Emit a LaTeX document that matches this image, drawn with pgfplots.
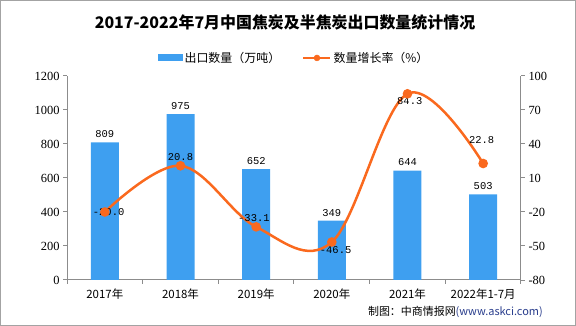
\documentclass[border=0pt]{standalone}
\usepackage{fontspec}
\setmainfont{Liberation Serif}
\newfontfamily\cjk{Noto Sans CJK SC}
\newfontfamily\mono{Liberation Mono}
\usepackage{pgfplots}
\pgfplotsset{compat=1.18}
\definecolor{barblue}{RGB}{62,159,240}
\definecolor{lineorange}{RGB}{250,105,30}
\definecolor{axgray}{RGB}{140,140,140}
\definecolor{urlblue}{RGB}{40,60,140}
\begin{document}
\begin{tikzpicture}
\path[use as bounding box] (0,0) rectangle (576bp,326bp);
\draw[axgray!80, line width=1bp] (0.5bp,0.5bp) rectangle (575.5bp,325.5bp);
\node[font=\cjk\bfseries\fontsize{16}{18}\selectfont] at (285bp,304bp) {2017-2022年7月中国焦炭及半焦炭出口数量统计情况};
\node[anchor=east, font=\cjk\fontsize{11}{13}\selectfont, inner sep=0] at (543bp,14bp) {制图：中商情报网\textcolor{urlblue}{(www.askci.com)}};
\begin{axis}[name=ax,
  at={(67bp,46bp)}, anchor=south west, scale only axis,
  width=454bp, height=204bp,
  xmin=-0.5, xmax=5.5, ymin=0, ymax=1200,
  axis y line*=left, axis x line*=bottom,
  axis line style={axgray, line width=1bp, -},
  ytick={0,200,...,1200},
  xtick={0,...,5},
  xticklabels={2017年,2018年,2019年,2020年,2021年,2022年1-7月},
  minor xtick={-0.5,0.5,...,5.5},
  major x tick style={draw=none},
  minor tick length=4bp,
  major tick length=4bp,
  tick style={axgray, line width=1bp},
  tick align=outside,
  xticklabel style={font=\cjk\fontsize{11.5}{13}\selectfont, yshift=-1bp},
  yticklabel style={font=\fontsize{12.5}{14}\selectfont},
  /pgf/number format/assume math mode=true,
  /pgf/number format/1000 sep={},
  clip=false,
  legend style={at={(0.5,1)}, anchor=south, yshift=8bp, draw=none, fill=none,
    legend columns=2, font=\cjk\fontsize{12}{14}\selectfont,
    /tikz/every even column/.append style={column sep=20bp}},
  legend cell align=left,
]
\addplot[ybar, bar width=28bp, fill=barblue, draw=none,
  nodes near coords, every node near coord/.append style={font=\mono\fontsize{10.5}{12}\selectfont, black, yshift=1bp},
  legend image code/.code={\fill[barblue] (0bp,-3.5bp) rectangle (25bp,3.5bp);}]
  coordinates {(0,809) (1,975) (2,652) (3,349) (4,644) (5,503)};
\addlegendentry{出口数量（万吨）}
\addlegendimage{legend image code/.code={\draw[lineorange, line width=2.5bp] (0bp,0) -- (27bp,0); \fill[lineorange] (13.5bp,0) circle (3bp);}}
\addlegendentry{数量增长率（\%）}
\end{axis}
\begin{axis}[
  at={(67bp,46bp)}, anchor=south west, scale only axis,
  width=454bp, height=204bp,
  xmin=-0.5, xmax=5.5, ymin=-80, ymax=100,
  axis y line*=right, axis x line=none,
  axis line style={axgray, line width=1bp, -},
  ytick={-80,-50,...,100},
  tick style={axgray, line width=1bp},
  major tick length=4bp,
  tick align=outside,
  yticklabel style={font=\fontsize{12.5}{14}\selectfont},
  /pgf/number format/assume math mode=true,
  clip=false,
]
\addplot[lineorange, line width=2.5bp, smooth, tension=0.6, mark=*, mark size=3.5bp, mark options={fill=lineorange, draw=lineorange}]
  coordinates {(0,-20.0) (1,20.8) (2,-33.1) (3,-46.5) (4,84.3) (5,22.8)};
\begin{scope}[every node/.style={font=\mono\fontsize{10.5}{12}\selectfont, inner sep=1bp}]
\node at (axis cs:0.05,-20.0) {-20.0};
\node[above=4bp] at (axis cs:1,20.8) {20.8};
\node[above=4bp] at (axis cs:1.97,-33.1) {-33.1};
\node[below=3bp] at (axis cs:3.05,-46.5) {-46.5};
\node[below=3bp] at (axis cs:4.03,84.3) {84.3};
\node[above=19bp] at (axis cs:4.98,22.8) {22.8};
\end{scope}
\end{axis}
\end{tikzpicture}
\end{document}
